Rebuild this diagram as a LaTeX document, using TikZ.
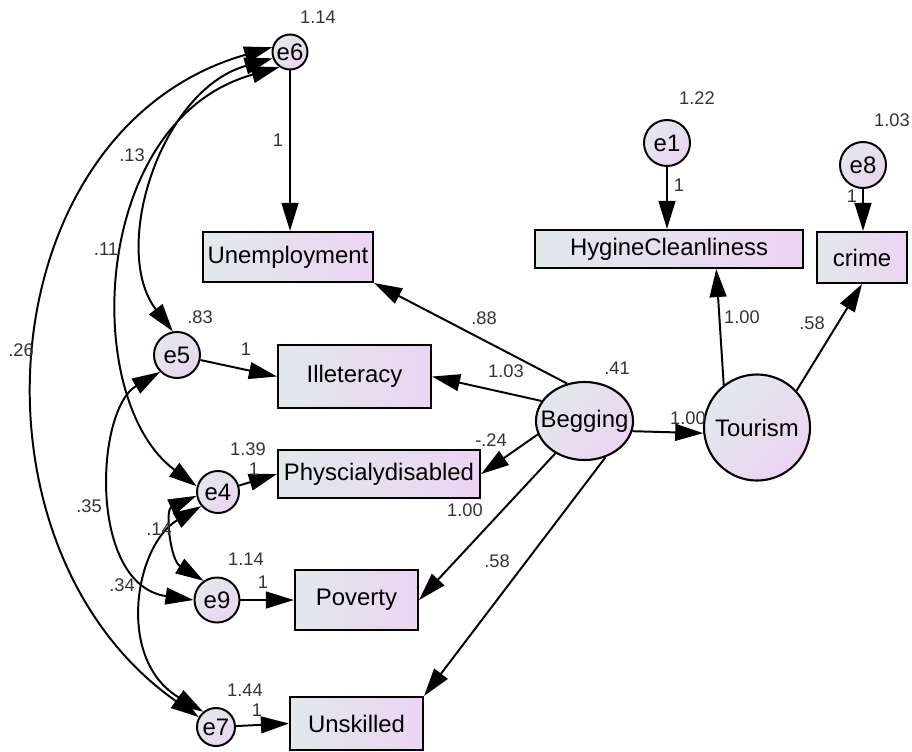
\documentclass[tikz,border=0pt]{standalone}
\usepackage{fontspec}
\setmainfont{Liberation Sans}
\usetikzlibrary{arrows.meta,shapes.geometric,positioning}

\definecolor{fillL}{HTML}{E1E9EB}
\definecolor{fillR}{HTML}{ECD4F2}
\definecolor{numcol}{HTML}{333333}

\begin{document}
\begin{tikzpicture}[x=0.025cm,y=-0.025cm,
        obs/.style={
            draw,
            rectangle,
            line width=1.5pt,
            inner sep=0pt,
            left color=fillL, right color=fillR,
            font=\fontsize{17}{20}\selectfont
        },
        lat/.style={
            draw,
            line width=1.5pt,
            inner sep=0pt,
            top color=fillL, bottom color=fillR, shading angle=45,
            font=\fontsize{17}{20}\selectfont
        },
        err/.style={
            lat,
            circle,
            line width=1.4pt,
            minimum size=1.15cm
        },
        reg/.style={-{Triangle[length=0.7cm,width=0.42cm]}, line width=1.4pt},
        cov/.style={{Triangle[length=0.7cm,width=0.42cm]}-{Triangle[length=0.7cm,width=0.42cm]}, line width=1.4pt},
        est/.style={font=\fontsize{13}{15}\selectfont, text=numcol, inner sep=0pt}
    ]
    \useasboundingbox (0,0) rectangle (912,751);

    % observed variables
    \node[obs, minimum width=4.25cm, minimum height=1.25cm] (unemp) at (288,257) {Unemployment};
    \node[obs, minimum width=3.825cm, minimum height=1.575cm] (illet) at (354.5,376.5) {Illeteracy};
    \node[obs, minimum width=5.05cm, minimum height=1.2cm] (phys) at (379,474) {Physcialydisabled};
    \node[obs, minimum width=3.075cm, minimum height=1.5cm] (pov) at (356.5,600) {Poverty};
    \node[obs, minimum width=3.325cm, minimum height=1.325cm] (unsk) at (356.5,723.5) {Unskilled};
    \node[obs, minimum width=6.7cm, minimum height=0.95cm] (hyg) at (669,249) {HygineCleanliness};
    \node[obs, minimum width=2.25cm, minimum height=1.275cm] (crime) at (862,257.5) {crime};

    % latent variables
    \node[lat, ellipse, minimum width=2.425cm, minimum height=1.95cm] (beg) at (584.5,421) {\makebox[0pt]{Begging}};
    \node[lat, circle, minimum size=2.65cm] (tour) at (757,427.5) {Tourism};

    % error terms
    \node[err, minimum size=0.875cm] (e6) at (290,52) {e6};
    \node[err] (e5) at (177,355) {e5};
    \node[err, minimum size=1.05cm] (e4) at (218,492) {e4};
    \node[err, minimum size=1.125cm] (e9) at (217,600) {e9};
    \node[err, minimum size=0.95cm] (e7) at (216,727) {e7};
    \node[err] (e1) at (667,143) {e1};
    \node[err] (e8) at (863,165) {e8};

    % regression paths
    \draw[reg] (e6) -- (e6 |- unemp.north);
    \draw[reg] (e5) -- (illet.west);
    \draw[reg] (e4) -- (phys.west);
    \draw[reg] (e9) -- (pov.west);
    \draw[reg] (e7) -- (unsk.west);
    \draw[reg] (e1) -- (e1 |- hyg.north);
    \draw[reg] (e8) -- (e8 |- crime.north);
    \draw[reg] (beg.115) -- (unemp.south east);
    \draw[reg] (beg.155) -- (illet.east);
    \draw[reg] (beg.196) -- (phys.east);
    \draw[reg] (beg.228) -- (pov.east);
    \draw[reg] (beg.-60) -- (unsk.north east);
    \draw[reg] (beg.-12) -- (tour.186);
    \draw[reg] (tour.128) -- (hyg.-23.4);
    \draw[reg] (tour.43) -- (crime.south);

    % covariances
    \draw[cov] (e6.165) .. controls (-12,128) and (-44,547) .. (e7.150);
    \draw[cov] (e6.200) .. controls (160,90) and (110,250) .. (e5.100);
    \draw[cov] (e6.235) .. controls (90,120) and (80,400) .. (e4.165);
    \draw[cov] (e5.225) .. controls (95,410) and (88,585) .. (e9.west);
    \draw[cov] (e4.190) .. controls (165,510) and (170,560) .. (e9.125);
    \draw[cov] (e4.220) .. controls (135,545) and (115,660) .. (e7.130);

    % estimates
    \node[est] (v6) at (318,17) {1.14};
    \node[est] (v5) at (200,317) {.83};
    \node[est] (v4) at (248,449) {1.39};
    \node[est] (v9) at (246,559) {1.14};
    \node[est] (v7) at (245,690) {1.44};
    \node[est] (v1) at (697,98) {1.22};
    \node[est] (v8) at (892,120) {1.03};
    \node[est] (vbeg) at (617,368) {.41};
    \node[est] (w6) at (278,140) {1};
    \node[est] (w5) at (246,349) {1};
    \node[est] (w4) at (254,469) {1};
    \node[est] (w9) at (263,582) {1};
    \node[est] (w7) at (257,710) {1};
    \node[est] (w1) at (679,185) {1};
    \node[est] (w8) at (852,196) {1};
    \node[est] (c13) at (132,155) {.13};
    \node[est] (c11) at (106,249) {.11};
    \node[est] (c26) at (21,350) {.26};
    \node[est] (c35) at (89,506) {.35};
    \node[est] (c14) at (159,529) {.14};
    \node[est] (c34) at (122,585) {.34};
    \node[est] (bunemp) at (484,318) {.88};
    \node[est] (billet) at (506,371) {1.03};
    \node[est] (bphys) at (491,440) {-.24};
    \node[est] (bpov) at (465,510) {1.00};
    \node[est] (bunsk) at (497,561) {.58};
    \node[est] (btour) at (688,418) {1.00};
    \node[est] (thyg) at (742,317) {1.00};
    \node[est] (tcrime) at (812,323) {.58};
\end{tikzpicture}
\end{document}
